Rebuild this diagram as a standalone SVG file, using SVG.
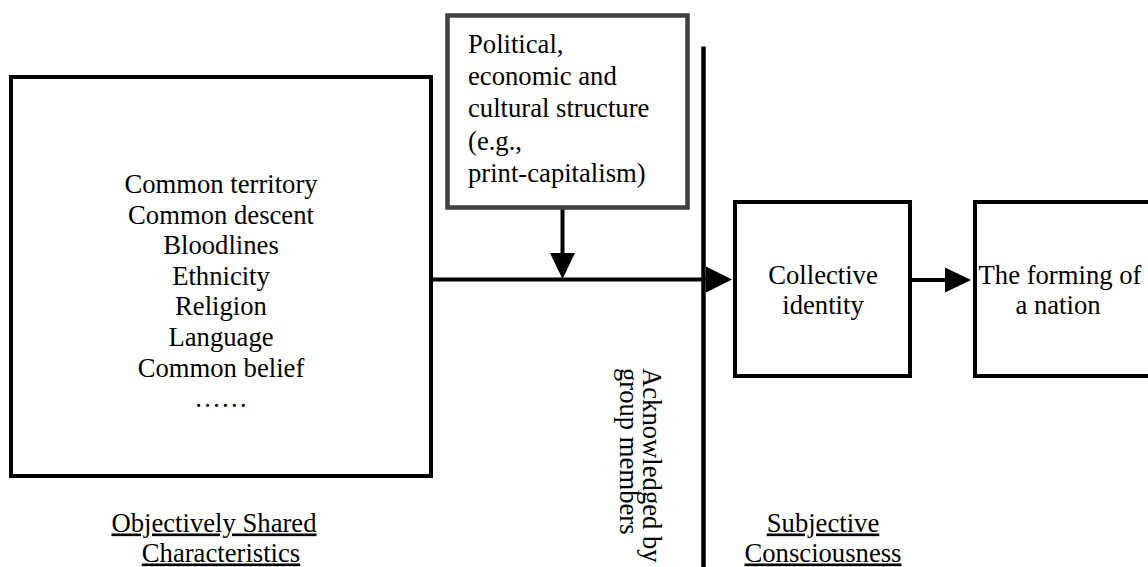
<svg xmlns="http://www.w3.org/2000/svg" width="1148" height="567" viewBox="0 0 1148 567" font-family="'Liberation Serif', 'Times New Roman', Times, serif">
  <defs>
    <style>
      text { font-family: "Liberation Serif", "Times New Roman", Times, serif; font-size: 26.67px; fill: #000; }
      .c { text-anchor: middle; }
      .u { text-decoration: underline; }
      .box { fill: #fff; stroke: #000; stroke-width: 4; }
      .line { stroke: #000; stroke-width: 4; fill: none; }
      .head { fill: #000; stroke: none; }
    </style>
  </defs>
  <rect width="1148" height="567" fill="#fff"/>

  <g id="connectors">
    <line class="line" x1="431" y1="279.5" x2="708" y2="279.5"/>
    <polygon class="head" points="706,266.5 732,279.5 706,292.5"/>
    <line class="line" x1="562.5" y1="207" x2="562.5" y2="256"/>
    <polygon class="head" points="550,253 575,253 562.5,279"/>
    <line class="line" x1="910" y1="280" x2="947" y2="280"/>
    <polygon class="head" points="945,267.5 971,280 945,292.5"/>
  </g>

  <g id="divider">
    <line x1="703.5" y1="46.5" x2="703.5" y2="567" stroke="#000" stroke-width="4.5"/>
  </g>

  <g id="node-objective">
    <rect class="box" x="11" y="77" width="420" height="399"/>
    <text class="c" x="221" y="193">Common territory</text>
    <text class="c" x="221" y="224">Common descent</text>
    <text class="c" x="221" y="254">Bloodlines</text>
    <text class="c" x="221" y="285">Ethnicity</text>
    <text class="c" x="221" y="315">Religion</text>
    <text class="c" x="221" y="346">Language</text>
    <text class="c" x="221" y="377">Common belief</text>
    <text class="c" x="221" y="407">……</text>
  </g>

  <g id="node-structure">
    <rect x="447.5" y="15.5" width="240" height="192" fill="#fff" stroke="#404040" stroke-width="4.5"/>
    <text x="468" y="52.5">Political,</text>
    <text x="468" y="84.5">economic and</text>
    <text x="468" y="117">cultural structure</text>
    <text x="468" y="149.5">(e.g.,</text>
    <text x="468" y="182">print-capitalism)</text>
  </g>

  <g id="node-identity">
    <rect class="box" x="735" y="202" width="175" height="174"/>
    <text class="c" x="823" y="283.5">Collective</text>
    <text class="c" x="823" y="313.5">identity</text>
  </g>

  <g id="node-nation">
    <rect class="box" x="975" y="202" width="200" height="174"/>
    <text class="c" x="1060" y="283.5">The forming of</text>
    <text class="c" x="1058" y="313.5">a nation</text>
  </g>

  <g id="label-acknowledged">
    <text transform="translate(643,368) rotate(90)">Acknowledged by<tspan x="0" dy="22.7">group members</tspan></text>
  </g>

  <g id="label-objective">
    <text class="c u" x="214" y="531.5">Objectively Shared</text>
    <text class="c u" x="221" y="561.5">Characteristics</text>
  </g>

  <g id="label-subjective">
    <text class="c u" x="823" y="531.5">Subjective</text>
    <text class="c u" x="823" y="561.5">Consciousness</text>
  </g>
</svg>
